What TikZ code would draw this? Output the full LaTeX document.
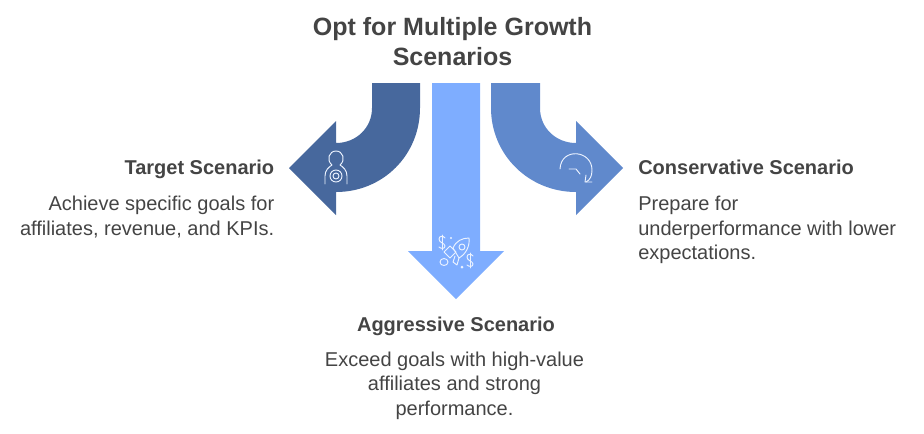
\documentclass[tikz,border=0pt]{standalone}
\usepackage{fontspec}
\setmainfont{Liberation Sans}
\usepackage{xcolor}
\usetikzlibrary{positioning,calc}
\definecolor{leftblue}{HTML}{47689D}
\definecolor{rightblue}{HTML}{6089CC}
\definecolor{midblue}{HTML}{7EADFF}
\definecolor{inktext}{HTML}{444444}
\begin{document}
\begin{tikzpicture}[
	x=0.75pt, y=-0.75pt,
	title_label/.style={
		font=\fontsize{18.75}{22.5}\selectfont\bfseries, text=inktext, align=center, inner sep=0pt
	},
	head_label/.style={
		font=\fontsize{15}{18}\selectfont\bfseries, text=inktext, inner sep=0pt
	},
	body_label/.style={
		font=\fontsize{15}{18.4}\selectfont, text=inktext, inner sep=0pt
	},
	icon/.style={
		draw=white!85!midblue, line width=0.7pt, line cap=round, line join=round, fill=none
	}
	]
	\useasboundingbox (0,0) rectangle (924,433);
	
	% --- ARROWS ---
	\fill[leftblue] (372,83) -- (420,83) -- (420,108)
		.. controls (420,155) and (383,192) .. (336,192)
		-- (336,215) -- (289,168) -- (336,121) -- (336,143)
		.. controls (356,143) and (372,128) .. (372,108) -- cycle;
	\fill[rightblue] (491,83) -- (540,83) -- (540,108)
		.. controls (540,128) and (556,143) .. (576,143)
		-- (576,121) -- (623,168) -- (576,215) -- (576,192)
		.. controls (529,192) and (491,155) .. (491,108) -- cycle;
	\fill[midblue] (432,83) -- (480,83) -- (480,251) -- (504,251)
		-- (456,299) -- (408,251) -- (432,251) -- cycle;
	
	% --- ICON target ---
	\draw[icon] (325,184) -- (325,176) .. controls (325,170) and (329,167) .. (332,165)
		.. controls (326,160) and (329,151) .. (336,151)
		.. controls (343,151) and (346,160) .. (340,165)
		.. controls (343,167) and (347,170) .. (347,176) -- (347,184);
	\draw[icon] (336,176) circle (6);
	\draw[icon] (336,176) circle (3);
	
	% --- ICON turn ---
	\draw[icon] (560,169) .. controls (561,147) and (592,150) .. (592,170)
		.. controls (592,176) and (590,180) .. (586,182);
	\draw[icon] (586,175) -- (585,182) -- (592,182);
	\draw[icon] (569,169) -- (576,169) -- (580,174);
	
	% --- ICON rocket ---
	\draw[icon] (453,248) .. controls (456,241) and (462,238) .. (469,238)
		.. controls (470,246) and (466,254) .. (459,258) -- cycle;
	\draw[icon] (462,247) circle (3);
	\draw[icon] (450,246) -- (444,252) -- (450,258) -- (456,252) -- cycle;
	\draw[icon] (459,258) -- (457,265) -- (453,262) -- (455,256);
	\draw[icon] (444,262) ellipse (4 and 3.5);
	\draw[icon] (445,238) .. controls (443,235) and (439,236) .. (439,239)
		.. controls (439,243) and (445,243) .. (445,246)
		.. controls (445,249) and (441,249) .. (439,247);
	\draw[icon] (442,235) -- (442,250);
	\draw[icon] (473,256) .. controls (471,253) and (467,254) .. (467,257)
		.. controls (467,261) and (473,261) .. (473,264)
		.. controls (473,267) and (469,267) .. (467,265);
	\draw[icon] (470,253) -- (470,268);
	\fill[white!85!midblue] (451,238) circle (1.2);
	\fill[white!85!midblue] (462,267) circle (1.5);
	
	% --- LABELS ---
	\node[title_label] (title) at (452.5,42) {Opt for Multiple Growth\\Scenarios};
	
	\node[head_label, anchor=base east] (targethead) at (274.5,174) {Target Scenario};
	\node[body_label, align=right, anchor=north east] (targetbody) at (274.5,196)
		{Achieve specific goals for\\affiliates, revenue, and KPIs.};
	
	\node[head_label, anchor=base west] (conshead) at (638,174) {Conservative Scenario};
	\node[body_label, align=left, anchor=north west] (consbody) at (638,196)
		{Prepare for\\underperformance with lower\\expectations.};
	
	\node[head_label, anchor=base] (agghead) at (456,331) {Aggressive Scenario};
	\node[body_label, align=center, anchor=north] (aggbody) at (454.5,351.5)
		{Exceed goals with high-value\\affiliates and strong\\performance.};
\end{tikzpicture}
\end{document}
